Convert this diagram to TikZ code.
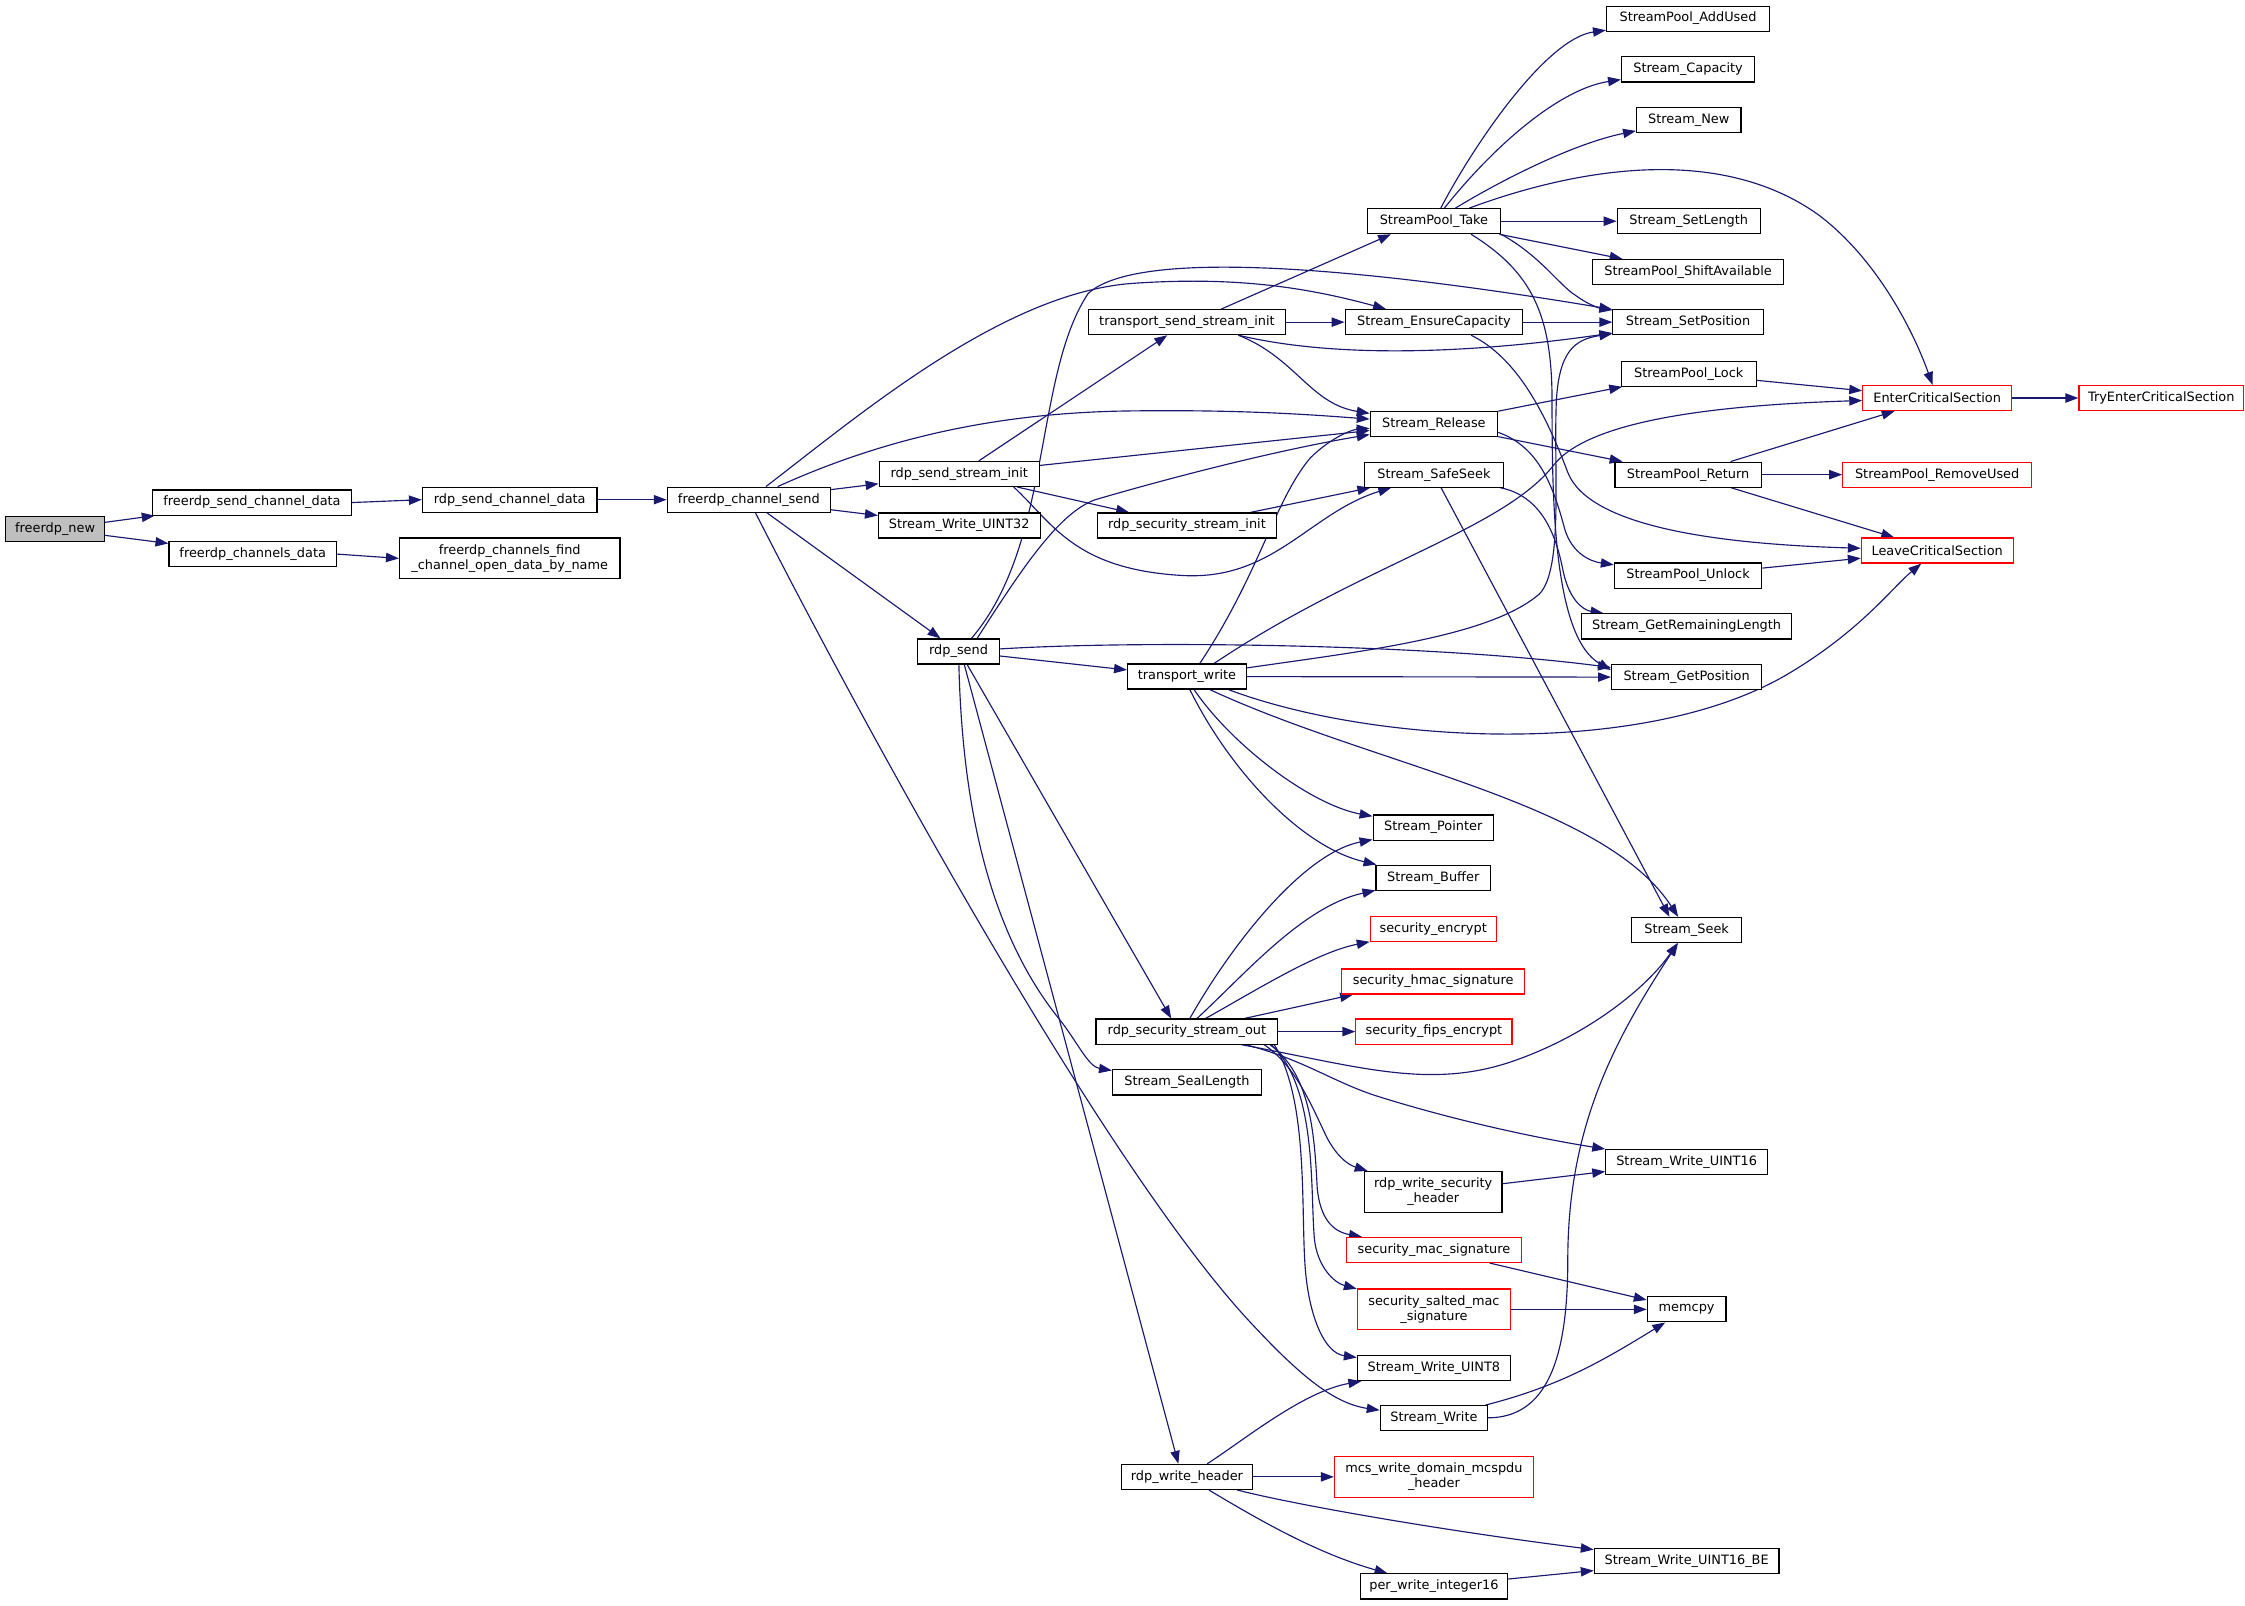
\documentclass[tikz,border=0pt]{standalone}
\usepackage{fontspec}
\setmainfont{DejaVu Sans}
\usetikzlibrary{arrows.meta}
\definecolor{edgeblue}{HTML}{191970}
\definecolor{rootgray}{HTML}{BFBFBF}
\pgfdeclarelayer{background}
\pgfsetlayers{background,main}
\tikzset{
  fn/.style={draw=black, line width=0.8pt, fill=white, inner sep=0pt, align=center,
    font=\fontsize{9}{10.7}\selectfont, minimum height=17.5pt},
  fnred/.style={fn, draw=red},
  fnroot/.style={fn, fill=rootgray},
  twoline/.style={minimum height=28.5pt},
  call/.style={draw=edgeblue, line width=0.8pt, -{Triangle[length=9pt,width=6.5pt]}},
}
\begin{document}
\begin{tikzpicture}[x=1pt,y=-1pt]
\useasboundingbox (0,0) rectangle (1568,1121);
% ---------------- nodes ----------------
\node[fnroot, minimum width=69pt] (fnew) at (38.5,369.5) {freerdp\_new};
\node[fn, minimum width=139pt] (fscd) at (176,351) {freerdp\_send\_channel\_data};
\node[fn, minimum width=117pt] (fcd) at (176.5,387) {freerdp\_channels\_data};
\node[fn, minimum width=122pt] (rscd) at (356,349) {rdp\_send\_channel\_data};
\node[fn, twoline, minimum width=154pt] (ffind) at (356,390) {freerdp\_channels\_find\\\_channel\_open\_data\_by\_name};
\node[fn, minimum width=114pt] (fcs) at (523,349) {freerdp\_channel\_send};
\node[fn, minimum width=112pt] (rssi) at (670,331) {rdp\_send\_stream\_init};
\node[fn, minimum width=113pt] (swu32) at (670,367) {Stream\_Write\_UINT32};
\node[fn, minimum width=57pt] (rsend) at (669.5,455) {rdp\_send};
\node[fn, minimum width=138pt] (tssi) at (829,225) {transport\_send\_stream\_init};
\node[fn, minimum width=125pt] (rsecsi) at (829,367) {rdp\_security\_stream\_init};
\node[fn, minimum width=83pt] (twrite) at (829,472.5) {transport\_write};
\node[fn, minimum width=127pt] (rsso) at (829,720.5) {rdp\_security\_stream\_out};
\node[fn, minimum width=104pt] (sseal) at (829,756) {Stream\_SealLength};
\node[fn, minimum width=92pt] (rwh) at (829,1031.5) {rdp\_write\_header};
\node[fn, minimum width=93pt] (sptake) at (1001.5,154.5) {StreamPool\_Take};
\node[fn, minimum width=124pt] (sensure) at (1001.5,225) {Stream\_EnsureCapacity};
\node[fn, minimum width=89pt] (srelease) at (1001.5,296) {Stream\_Release};
\node[fn, minimum width=97pt] (ssafeseek) at (1001.5,331.5) {Stream\_SafeSeek};
\node[fn, minimum width=84pt] (sptr) at (1001,578) {Stream\_Pointer};
\node[fn, minimum width=80pt] (sbuf) at (1001,613) {Stream\_Buffer};
\node[fnred, minimum width=88pt] (senc) at (1001,649) {security\_encrypt};
\node[fnred, minimum width=128pt] (shmac) at (1001,685.5) {security\_hmac\_signature};
\node[fnred, minimum width=109pt] (sfips) at (1001.5,720.5) {security\_fips\_encrypt};
\node[fn, twoline, minimum width=96pt] (rwsh) at (1001,832.5) {rdp\_write\_security\\\_header};
\node[fnred, minimum width=122pt] (smac) at (1001.5,873) {security\_mac\_signature};
\node[fnred, twoline, minimum width=107pt] (ssalted) at (1001.5,914.5) {security\_salted\_mac\\\_signature};
\node[fn, minimum width=107pt] (swu8) at (1001.5,955.5) {Stream\_Write\_UINT8};
\node[fn, minimum width=75pt] (swrite) at (1001.5,990.5) {Stream\_Write};
\node[fnred, twoline, minimum width=139pt] (mcs) at (1001.5,1031.5) {mcs\_write\_domain\_mcspdu\\\_header};
\node[fn, minimum width=103pt] (perw) at (1001.5,1108) {per\_write\_integer16};
\node[fn, minimum width=114pt] (addused) at (1179,13) {StreamPool\_AddUsed};
\node[fn, minimum width=93pt] (scap) at (1179,48.5) {Stream\_Capacity};
\node[fn, minimum width=73pt] (snew) at (1179.5,84) {Stream\_New};
\node[fn, minimum width=100pt] (ssetlen) at (1179.5,154.5) {Stream\_SetLength};
\node[fn, minimum width=133pt] (shift) at (1179,190) {StreamPool\_ShiftAvailable};
\node[fn, minimum width=105pt] (ssetpos) at (1179,225) {Stream\_SetPosition};
\node[fn, minimum width=94pt] (lock) at (1179.5,261) {StreamPool\_Lock};
\node[fn, minimum width=102pt] (ret) at (1179,331.5) {StreamPool\_Return};
\node[fn, minimum width=103pt] (unlock) at (1179,402) {StreamPool\_Unlock};
\node[fn, minimum width=147pt] (remlen) at (1178,437.5) {Stream\_GetRemainingLength};
\node[fn, minimum width=105pt] (getpos) at (1178,473) {Stream\_GetPosition};
\node[fn, minimum width=77pt] (seek) at (1178,649.5) {Stream\_Seek};
\node[fn, minimum width=113pt] (swu16) at (1178,811.5) {Stream\_Write\_UINT16};
\node[fn, minimum width=55pt] (memcpy) at (1178,914.5) {memcpy};
\node[fn, minimum width=129pt] (swu16be) at (1178,1090.5) {Stream\_Write\_UINT16\_BE};
\node[fnred, minimum width=104pt] (enter) at (1353,278) {EnterCriticalSection};
\node[fnred, minimum width=132pt] (remused) at (1353,331.5) {StreamPool\_RemoveUsed};
\node[fnred, minimum width=106pt] (leave) at (1353,384.5) {LeaveCriticalSection};
\node[fnred, minimum width=115pt] (tryenter) at (1509.5,278) {TryEnterCriticalSection};
% ---------------- edges ----------------
\begin{pgfonlayer}{background}
\fill[white] (0,0) rectangle (1568,1121);
\draw[call] (fnew) -- (fscd);
\draw[call] (fnew) -- (fcd);
\draw[call] (fscd.east) -- (rscd.west);
\draw[call] (fcd.east) -- (ffind.west);
\draw[call] (rscd) -- (fcs);
% freerdp_channel_send
\draw[call] (fcs) -- (rssi);
\draw[call] (fcs) -- (swu32);
\draw[call] (fcs) -- (rsend);
\draw[call] (fcs) .. controls (600,290) and (700,205) .. (790,198) .. controls (860,193) and (910,200) .. (sensure);
\draw[call] (fcs) .. controls (620,305) and (700,288) .. (790,287) .. controls (870,286) and (920,290) .. (srelease);
\draw[call] (fcs) .. controls (610,520) and (770,810) .. (870,920) .. controls (905,958) and (930,980) .. (swrite);
% rdp_send_stream_init
\draw[call] (rssi) -- (tssi);
\draw[call] (rssi) -- (srelease);
\draw[call] (rssi) -- (rsecsi);
\draw[call] ([xshift=38pt]rssi.south) .. controls (735,365) and (750,398) .. (827,402) .. controls (890,405) and (915,358) .. (ssafeseek);
% transport_send_stream_init
\draw[call] ([xshift=24pt]tssi.north) -- ([xshift=-30pt]sptake.south);
\draw[call] (tssi) -- (sensure);
\draw[call] ([xshift=36pt]tssi.south) .. controls (940,252) and (1040,245) .. (ssetpos);
\draw[call] ([xshift=36pt]tssi.south) .. controls (905,250) and (915,282) .. (srelease);
% rdp_send
\draw[call] ([xshift=9pt]rsend.north) .. controls (735,380) and (722,262) .. (760,205) .. controls (800,168) and (1000,195) .. (ssetpos);
\draw[call] ([xshift=13pt]rsend.north) .. controls (715,395) and (740,358) .. (765,349) .. controls (830,330) and (900,313) .. (srelease);
\draw[call] (rsend) -- (twrite);
\draw[call] (rsend) .. controls (800,447) and (1000,450) .. (getpos);
\draw[call] ([xshift=6pt]rsend.south) -- ([xshift=-11pt]rsso.north);
\draw[call] (rsend) .. controls (672,560) and (690,650) .. (740,712) .. controls (752,727) and (760,745) .. (sseal);
\draw[call] ([xshift=4pt]rsend.south) -- ([xshift=-6pt]rwh.north);
% transport_write
\draw[call] ([xshift=9pt]twrite.north) .. controls (880,400) and (890,350) .. (915,320) .. controls (930,305) and (945,300) .. (srelease);
\draw[call] ([xshift=19pt]twrite.north) .. controls (950,395) and (1050,370) .. (1085,325) .. controls (1110,293) and (1200,283) .. (enter);
\draw[call] ([yshift=6pt]twrite.east) .. controls (950,455) and (1040,445) .. (1075,415) .. controls (1092,398) and (1085,330) .. (1087,280) .. controls (1089,245) and (1100,237) .. (ssetpos);
\draw[call] (twrite) -- (getpos);
\draw[call] ([xshift=29pt]twrite.south) .. controls (960,520) and (1150,530) .. (1250,470) .. controls (1300,440) and (1322,410) .. (leave);
\draw[call] ([xshift=5pt]twrite.south) .. controls (860,520) and (915,562) .. (sptr);
\draw[call] ([xshift=2pt]twrite.south) .. controls (860,540) and (910,592) .. (sbuf);
\draw[call] ([xshift=16pt]twrite.south) .. controls (960,535) and (1120,560) .. (seek);
% rdp_security_stream_out
\draw[call] ([xshift=2pt]rsso.north) .. controls (860,660) and (910,596) .. (sptr);
\draw[call] ([xshift=7pt]rsso.north) .. controls (870,680) and (910,633) .. (sbuf);
\draw[call] ([xshift=13pt]rsso.north) .. controls (880,690) and (920,665) .. (senc);
\draw[call] ([xshift=40pt]rsso.north) -- ([xshift=-56pt]shmac.south);
\draw[call] (rsso) -- (sfips);
\draw[call] ([xshift=38pt]rsso.south) .. controls (950,745) and (1000,762) .. (1060,740) .. controls (1110,722) and (1150,690) .. (seek);
\draw[call] ([xshift=41pt]rsso.south) .. controls (910,740) and (930,755) .. (960,765) .. controls (1020,784) and (1080,796) .. (swu16);
\draw[call] ([xshift=54pt]rsso.south) .. controls (905,745) and (915,770) .. (927,795) .. controls (933,806) and (940,813) .. (rwsh);
\draw[call] ([xshift=58pt]rsso.south) .. controls (915,750) and (918,790) .. (920,830) .. controls (922,850) and (930,860) .. (smac);
\draw[call] ([xshift=59pt]rsso.south) .. controls (920,760) and (915,830) .. (918,865) .. controls (920,885) and (932,896) .. (ssalted);
\draw[call] ([xshift=61pt]rsso.south) .. controls (915,770) and (908,850) .. (912,890) .. controls (915,920) and (925,945) .. (swu8);
% lower middle
\draw[call] (rwsh) -- (swu16);
\draw[call] (smac) -- (memcpy);
\draw[call] (ssalted) -- (memcpy);
\draw[call] (swrite) .. controls (1090,968) and (1120,950) .. (memcpy);
\draw[call] (swrite) .. controls (1080,990) and (1095,950) .. (1095,880) .. controls (1095,790) and (1125,730) .. (seek);
\draw[call] ([xshift=5pt]ssafeseek.south) -- ([xshift=-12pt]seek.north);
\draw[call] (ssafeseek) .. controls (1080,347) and (1088,380) .. (1092,400) .. controls (1096,418) and (1105,426) .. (remlen);
\draw[call] (rsecsi) -- (ssafeseek);
% StreamPool_Take
\draw[call] (sptake) .. controls (1030,100) and (1080,27) .. (addused);
\draw[call] (sptake) .. controls (1045,100) and (1090,62) .. (scap);
\draw[call] (sptake) .. controls (1050,125) and (1100,100) .. (snew);
\draw[call] (sptake) .. controls (1100,118) and (1200,100) .. (1270,150) .. controls (1310,180) and (1336,230) .. (enter);
\draw[call] (sptake) -- (ssetlen);
\draw[call] (sptake) -- (shift);
\draw[call] (sptake.south east) .. controls (1075,178) and (1090,200) .. (1100,206) .. controls (1108,212) and (1116,215) .. (ssetpos);
\draw[call] ([xshift=26pt]sptake.south) .. controls (1070,190) and (1084,220) .. (1084,280) .. controls (1084,350) and (1085,445) .. ([yshift=5pt]getpos.west);
% Stream_EnsureCapacity
\draw[call] (sensure) -- (ssetpos);
\draw[call] ([xshift=26pt]sensure.south) .. controls (1060,250) and (1080,290) .. (1095,330) .. controls (1110,368) and (1200,380) .. (leave);
% Stream_Release
\draw[call] (srelease) -- (lock);
\draw[call] (srelease) -- (ret);
\draw[call] ([yshift=-6pt]srelease.east) .. controls (1075,312) and (1085,340) .. (1093,370) .. controls (1098,386) and (1110,392) .. (unlock);
% pool functions
\draw[call] (lock) -- (enter);
\draw[call] (ret) -- (enter);
\draw[call] (ret) -- (remused);
\draw[call] (ret) -- (leave);
\draw[call] (unlock) -- (leave);
\draw[call] (enter) -- (tryenter);
% rdp_write_header
\draw[call] (rwh) .. controls (870,1005) and (910,972) .. (swu8);
\draw[call] (rwh) -- (mcs);
\draw[call] (rwh) .. controls (900,1050) and (1000,1068) .. (swu16be);
\draw[call] (rwh) .. controls (880,1062) and (920,1085) .. (perw);
\draw[call] (perw) -- (swu16be);
\end{pgfonlayer}
\end{tikzpicture}
\end{document}
